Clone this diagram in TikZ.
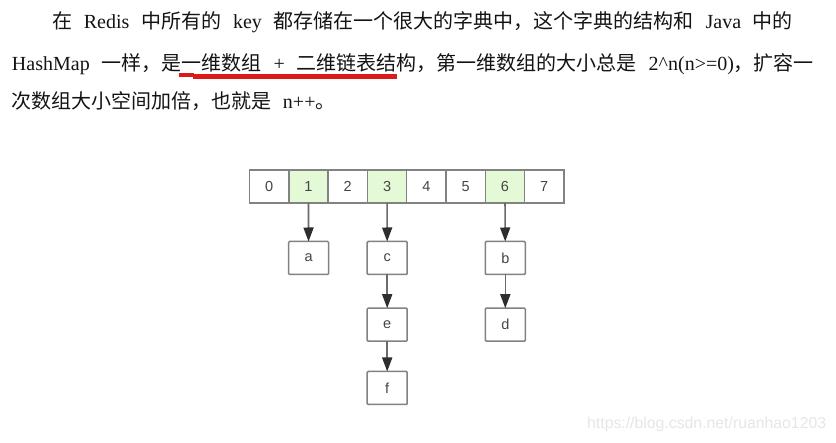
\documentclass[tikz,border=0pt]{standalone}
\usepackage{fontspec}
\setmainfont{Liberation Serif}
\newfontfamily\cjk{Noto Sans CJK SC}
\newfontfamily\diagfont{Liberation Sans}
\usetikzlibrary{arrows.meta}
\definecolor{txt}{HTML}{141414}
\definecolor{cellgreen}{HTML}{E4FAD6}
\definecolor{bordergray}{HTML}{828282}
\definecolor{shaft}{HTML}{6A6A6A}
\definecolor{headcol}{HTML}{2E2E2E}
\definecolor{labelcol}{HTML}{444444}
\definecolor{ulred}{HTML}{DD1818}
\definecolor{wm}{HTML}{E6E6E6}
\begin{document}
\begin{tikzpicture}[x=1pt,y=-1pt,
  cellbox/.style={draw=bordergray, line width=1.5pt, fill=white, minimum width=39.3pt, minimum height=33pt, inner sep=0pt, outer sep=0pt, font=\diagfont\fontsize{14.5}{16}\selectfont, text=labelcol},
  hot/.style={cellbox, fill=cellgreen},
  itembox/.style={cellbox, minimum width=40pt, rounded corners=1pt},
  link/.style={draw=shaft, line width=1.6pt, -{Triangle[length=14pt,width=10pt,color=headcol]}},
  para/.style={anchor=base west, inner sep=0pt, outer sep=0pt, text=txt, font=\fontsize{20}{24}\selectfont},
  uline/.style={draw=ulred},
]
\useasboundingbox[fill=white] (0,0) rectangle (836,443);

% paragraph
\node[para] (l1) at (52,29) {\hbox to 741pt{{\cjk 在} Redis {\cjk 中所有的} key {\cjk 都存储在一个很大的字典中，这个字典的结构和} Java {\cjk 中的}}};
\node[para] (l2) at (12,71) {\hbox to 802pt{HashMap {\cjk 一样，是一维数组} + {\cjk 二维链表结构，第一维数组的大小总是} 2\textasciicircum n(n>=0){\cjk ，扩容一}}};
\node[para] (l3) at (12,109) {{\cjk 次数组大小空间加倍，也就是}\hspace{11pt}n++{\cjk 。}};

% red underline
\coordinate (u1) at (179.3,75.3);
\coordinate (u2) at (193.8,75.3);
\coordinate (u3) at (193.3,76.5);
\coordinate (u4) at (397.3,76.5);
\draw[uline, line width=4pt] (u1) -- (u2);
\draw[uline, line width=5pt] (u3) -- (u4);

% array
\node[cellbox] (c0) at (269.15,186.5) {0};
\node[hot]     (c1) at (308.45,186.5) {1};
\node[cellbox] (c2) at (347.75,186.5) {2};
\node[hot]     (c3) at (387.05,186.5) {3};
\node[cellbox] (c4) at (426.35,186.5) {4};
\node[cellbox] (c5) at (465.65,186.5) {5};
\node[hot]     (c6) at (504.95,186.5) {6};
\node[cellbox] (c7) at (544.25,186.5) {7};

% chains
\node[itembox] (a) at (308.6,258) {a};
\node[itembox] (c) at (387.2,258) {c};
\node[itembox] (b) at (505.3,258) {b};
\node[itembox] (e) at (387.2,324.7) {e};
\node[itembox] (d) at (505.3,324.7) {d};
\node[itembox] (f) at (387.2,388) {f};

\draw[link] (c1) -- (a);
\draw[link] (c3) -- (c);
\draw[link] (c6) -- (b);
\draw[link] (c) -- (e);
\draw[link] (e) -- (f);
\draw[link] (b) -- (d);

% watermark
\node[anchor=west, inner sep=0pt, text=wm, font=\diagfont\fontsize{15.8}{18}\selectfont] (wmk) at (587,424) {https://blog.csdn.net/ruanhao1203};
\end{tikzpicture}
\end{document}
